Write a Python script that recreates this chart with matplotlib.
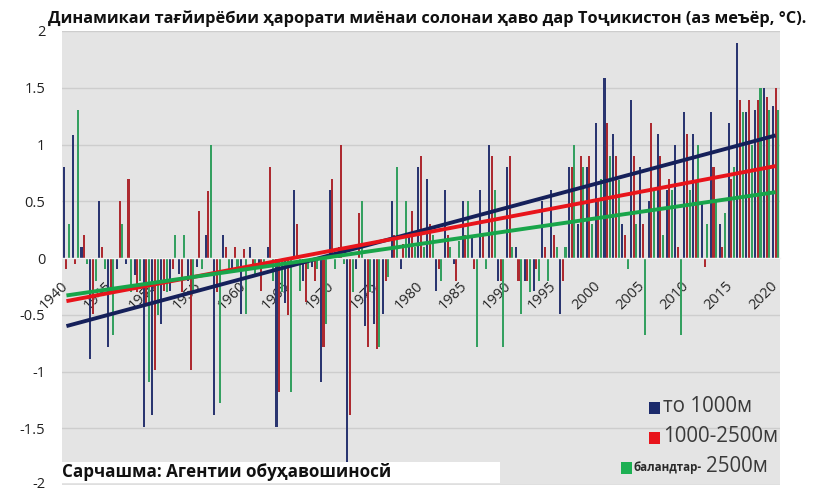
import matplotlib
matplotlib.use("Agg")
import matplotlib.pyplot as plt
from matplotlib.patches import Rectangle
from matplotlib.transforms import ScaledTranslation
import numpy as np

plt.rcParams['font.family'] = ['Open Sans', 'DejaVu Sans']

# ---------------- data ----------------
years = list(range(1940, 2021))
below_1000 = [0.80, 1.08, 0.10, -0.89, 0.50, -0.78, -0.10, -0.05, -0.15, -1.49,
              -1.38, -0.58, -0.29, -0.14, -0.20, -0.08, 0.20, -1.38, 0.20, -0.10,
              -0.49, 0.10, -0.10, 0.10, -1.49, -0.40, 0.60, -0.20, -0.08, -1.09,
              0.60, 0.10, -1.95, -0.10, -0.60, -0.58, -0.49, 0.50, -0.10, 0.20,
              0.80, 0.70, -0.29, 0.60, -0.05, 0.50, 0.20, 0.60, 1.00, -0.20,
              0.80, 0.10, -0.20, -0.29, 0.50, 0.60, -0.49, 0.80, 0.30, 0.80,
              1.19, 1.59, 1.09, 0.30, 1.39, 0.80, 0.50, 1.09, 0.60, 1.00,
              1.29, 1.09, 0.50, 1.29, 0.30, 1.19, 1.89, 1.29, 1.30, 1.50,
              1.34]
m1000_2500 = [-0.10, -0.05, 0.20, -0.49, 0.10, -0.30, 0.50, 0.70, -0.30, -0.40,
              -0.99, -0.29, -0.10, -0.30, -0.99, 0.41, 0.59, -0.30, 0.10, 0.10,
              0.08, -0.10, -0.29, 0.80, -1.18, -0.50, 0.30, -0.39, -0.20, -0.78,
              0.70, 1.00, -1.38, 0.40, -0.78, -0.80, -0.20, 0.20, 0.12, 0.41,
              0.90, 0.30, -0.10, 0.20, -0.20, 0.20, -0.10, 0.20, 0.90, -0.20,
              0.90, -0.20, -0.20, -0.10, 0.10, 0.20, -0.20, 0.80, 0.90, 0.90,
              0.50, 1.19, 0.90, 0.20, 0.90, 0.30, 1.19, 0.90, 0.70, 0.10,
              1.09, 0.69, -0.08, 0.80, 0.10, 0.70, 1.39, 1.39, 1.39, 1.42,
              1.50]
above_2500 = [0.30, 1.30, -0.05, -0.20, -0.10, -0.68, 0.30, -0.30, -0.20, -1.09,
              -0.50, -0.30, 0.20, 0.20, -0.30, -0.10, 1.00, -1.28, -0.10, -0.10,
              -0.49, -0.17, -0.05, -0.20, -0.30, -1.18, -0.29, -0.10, -0.10, -0.58,
              -0.10, -0.05, -0.30, 0.50, -0.30, -0.78, -0.17, 0.80, 0.50, 0.10,
              0.10, 0.20, -0.20, 0.10, 0.15, 0.50, -0.78, -0.10, 0.60, -0.78,
              0.10, -0.49, -0.30, -0.20, -0.20, 0.10, 0.10, 1.00, 0.80, 0.30,
              0.70, 0.90, 0.69, -0.10, 0.30, -0.68, 0.60, 0.20, 0.60, -0.68,
              0.60, 1.00, 0.30, 0.50, 0.40, 0.80, 1.29, 1.00, 1.50, 1.30,
              1.30]
series_labels = ['то 1000м', '1000-2500м', 'баландтар- 2500м']
# linear trend values at 1940 and 2020 for each series
trend_start = [-0.60, -0.38, -0.33]
trend_end = [1.08, 0.81, 0.58]
tick_years = list(range(1940, 2021, 5))
ytick_vals = [2, 1.5, 1, 0.5, 0, -0.5, -1, -1.5, -2]
ytick_labels = ['2', '1.5', '1', '0.5', '0', '-0.5', '-1', '-1.5', '-2']

title = 'Динамикаи тағйирёбии ҳарорати миёнаи солонаи ҳаво дар Тоҷикистон (аз меъёр, °С).'
source = 'Сарчашма: Агентии обуҳавошиносй'

# ---------------- style ----------------
bar_colors = ['#2a3570', '#ad2a30', '#34a060']
line_colors = ['#15205a', '#e8141b', '#18a54a']
legend_colors = ['#1b2a6b', '#e8141b', '#1db053']

W, H = 816, 492
fig = plt.figure(figsize=(W / 100, H / 100), dpi=100)
fig.patch.set_facecolor('white')
ax = fig.add_axes([62 / W, 1 - 485 / H, (780 - 62) / W, (485 - 31) / H])
ax.set_facecolor('#e4e4e4')
ax.set_xlim(1939.5, 2020.5)
ax.set_ylim(-2, 2)

x = np.array(years, dtype=float)
bw = 0.23
offs = [-0.3, 0.0, 0.3]
for vals, c, o in zip([below_1000, m1000_2500, above_2500], bar_colors, offs):
    ax.bar(x + o, vals, width=bw, color=c, linewidth=0, zorder=2)

for s, e, c in zip(trend_start, trend_end, line_colors):
    ax.plot([years[0], years[-1]], [s, e], color=c, lw=2.8, zorder=4,
            solid_capstyle='butt')

ax.set_yticks(ytick_vals)
ax.set_yticklabels(ytick_labels)
ax.yaxis.grid(True, color='#cdcdcd', lw=1.0, zorder=1)
ax.set_axisbelow(True)
ax.tick_params(axis='y', length=0, pad=12, labelsize=10.5, labelcolor='#222222')
up = ScaledTranslation(0, 3 / 100, fig.dpi_scale_trans)
ylbls = ax.get_yticklabels()
ylbls[-1].set_transform(ylbls[-1].get_transform() + up)

ax.spines['bottom'].set_position(('data', 0))
ax.spines['bottom'].set_color('#f4f4f4')
ax.spines['bottom'].set_linewidth(1.0)
ax.spines['bottom'].set_zorder(3)
for sp in ['top', 'right', 'left']:
    ax.spines[sp].set_visible(False)

ax.set_xticks(tick_years)
ax.set_xticklabels([str(y) for y in tick_years], rotation=45, ha='right', va='top')
ax.tick_params(axis='x', length=0, pad=15, labelsize=10.5, labelcolor='#262626')
off = ScaledTranslation(5 / 100, 0, fig.dpi_scale_trans)
for lbl in ax.get_xticklabels():
    lbl.set_transform(lbl.get_transform() + off)
    lbl.set_zorder(5)

# title
t = fig.text(48 / W, 1 - 19 / H, title, fontweight='bold', fontsize=12,
             ha='left', va='center', color='#111111')
# source note with white band
fig.patches.append(Rectangle((60 / W, 1 - 483 / H), (500 - 60) / W, 21 / H,
                             transform=fig.transFigure, facecolor='white',
                             edgecolor='none', zorder=5))
s = fig.text(62 / W, 1 - 472 / H, source, fontweight='bold', fontsize=11,
             ha='left', va='center', color='#111111', zorder=6)

# legend (manual)
def sq(xp, yp, c):
    fig.patches.append(Rectangle(((xp - 5) / W, 1 - (yp + 6) / H), 11 / W, 12 / H,
                                 transform=fig.transFigure, facecolor=c,
                                 edgecolor='none', zorder=6))

leg_fs = 14.8
sq(654, 408, legend_colors[0])
fig.text(663 / W, 1 - 407 / H, series_labels[0], fontsize=leg_fs, color='#3a3a3a',
         ha='left', va='center', zorder=7)
sq(654, 438, legend_colors[1])
fig.text(663 / W, 1 - 437 / H, series_labels[1], fontsize=leg_fs, color='#3a3a3a',
         ha='left', va='center', zorder=7)
sq(626, 468, legend_colors[2])
part1, part2 = series_labels[2].split(' ')
fig.text(634 / W, 1 - 468 / H, part1, fontsize=8.3, fontweight='bold',
         color='#2a2a2a', ha='left', va='center', zorder=7)
fig.text(706 / W, 1 - 467 / H, part2, fontsize=leg_fs, color='#3a3a3a',
         ha='left', va='center', zorder=7)

# fit text widths to reference
fig.canvas.draw()
r = fig.canvas.get_renderer()
for txt, target in [(t, 758), (s, 328)]:
    bb = txt.get_window_extent(r)
    txt.set_fontsize(txt.get_fontsize() * target / bb.width)

fig.savefig('out.png', dpi=100, facecolor='white')
